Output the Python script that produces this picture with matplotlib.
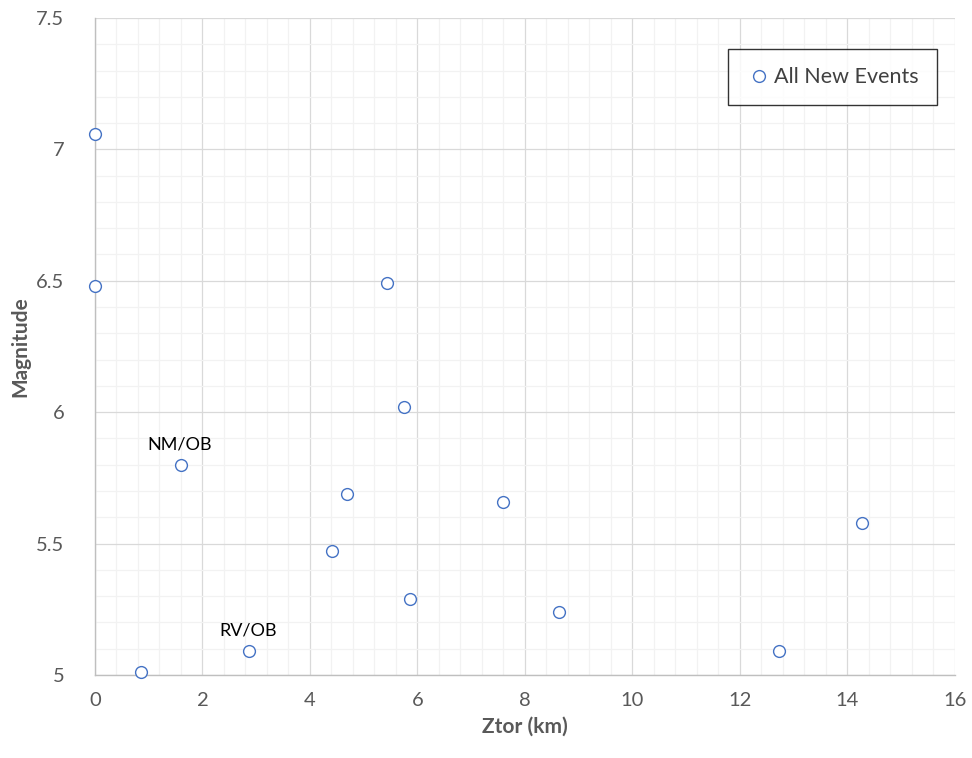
import matplotlib
matplotlib.use("Agg")
import matplotlib.pyplot as plt
from matplotlib.ticker import MultipleLocator

# Depth to top of rupture vs magnitude for the new events
ztor_km = [0.0, 0.0, 5.43, 5.75, 1.60, 4.69, 7.59, 14.27, 4.41, 5.86, 8.63, 2.87, 12.73, 0.86]
magnitude = [7.06, 6.48, 6.49, 6.02, 5.80, 5.69, 5.66, 5.58, 5.47, 5.29, 5.24, 5.09, 5.09, 5.01]

# Labelled events (index into arrays above)
annotations = [("NM/OB", 4), ("RV/OB", 11)]

plt.rcParams["font.family"] = ["Lato", "DejaVu Sans"]

fig = plt.figure(figsize=(9.72, 7.58), dpi=100)
ax = fig.add_axes([0.0977, 0.1095, 0.8848, 0.8668])

ax.plot(ztor_km, magnitude, linestyle="none", marker="o", markersize=8.5,
        markerfacecolor="white", markeredgecolor="#4472C4", markeredgewidth=1.0,
        label="All New Events", zorder=3, clip_on=False)

for text, i in annotations:
    ax.annotate(text, (ztor_km[i], magnitude[i]), xytext=(-1, 9),
                textcoords="offset points", ha="center", va="bottom",
                fontsize=13, color="black")

ax.set_xlim(0, 16)
ax.set_ylim(5, 7.5)
ax.xaxis.set_major_locator(MultipleLocator(2))
ax.xaxis.set_minor_locator(MultipleLocator(0.4))
ax.yaxis.set_major_locator(MultipleLocator(0.5))
ax.yaxis.set_minor_locator(MultipleLocator(0.1))
ax.yaxis.set_major_formatter(plt.FuncFormatter(lambda v, _: f"{v:g}"))

ax.grid(which="major", color="#D9D9D9", linewidth=0.9)
ax.grid(which="minor", color="#F2F2F2", linewidth=0.9)
ax.set_axisbelow(True)

for side in ("top", "right"):
    ax.spines[side].set_visible(False)
for side in ("left", "bottom"):
    ax.spines[side].set_color("#BFBFBF")
    ax.spines[side].set_linewidth(1.0)

ax.tick_params(which="both", length=0)
ax.tick_params(axis="x", labelsize=14.5, labelcolor="#595959", pad=12)
ax.tick_params(axis="y", labelsize=14.5, labelcolor="#595959", pad=22)

ax.set_xlabel("Ztor (km)", fontsize=15, fontweight="bold", color="#595959", labelpad=6)
ax.set_ylabel("Magnitude", fontsize=15, fontweight="bold", color="#595959", labelpad=4)

leg = ax.legend(loc="upper right", bbox_to_anchor=(0.979, 0.953), fontsize=15.5,
                frameon=True, fancybox=False, handletextpad=0.1,
                borderpad=0.85, borderaxespad=0, handlelength=1.2)
leg.get_frame().set_edgecolor("black")
leg.get_frame().set_linewidth(1.0)
for t in leg.get_texts():
    t.set_color("#404040")

fig.savefig("out.png", dpi=100)
